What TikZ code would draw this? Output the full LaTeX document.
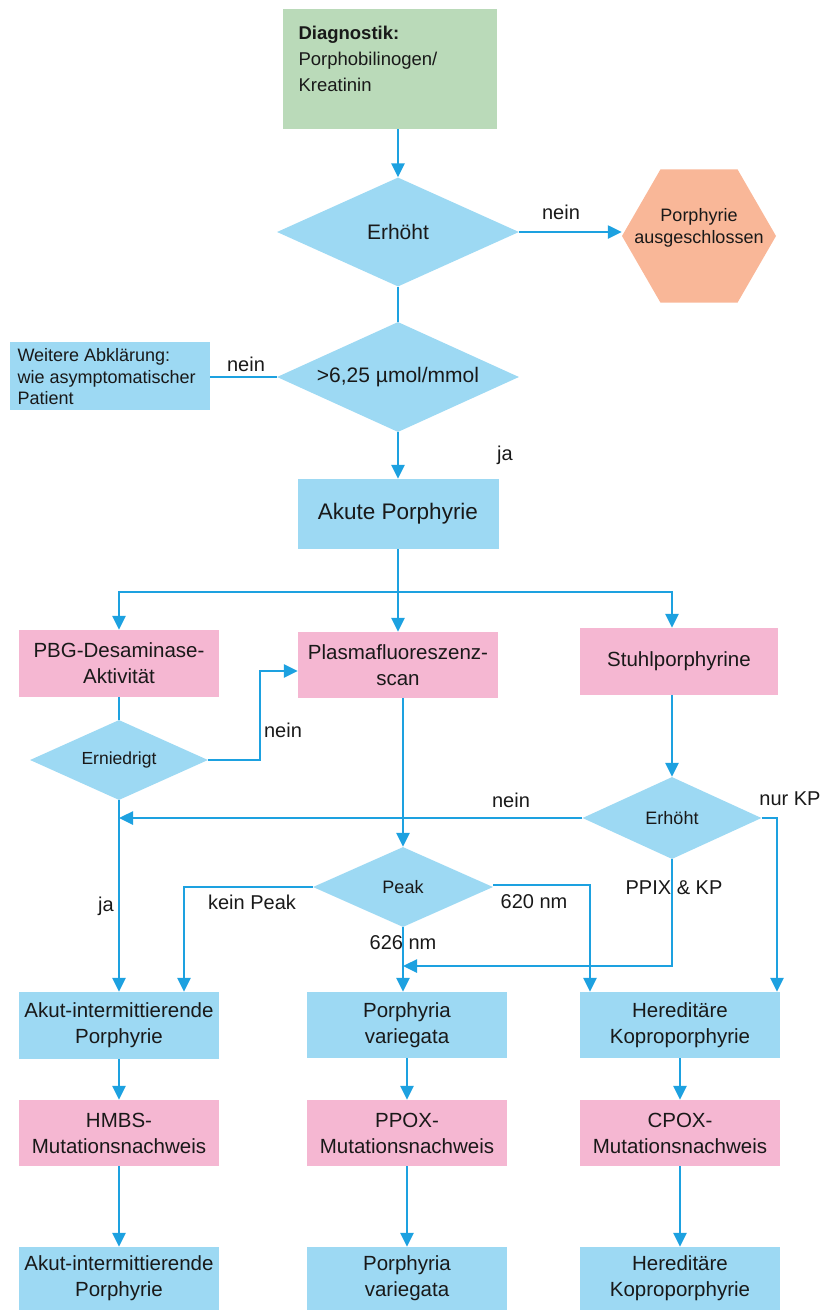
\documentclass[tikz,border=0pt]{standalone}
\usepackage{fontspec}
\setmainfont{Liberation Sans}
\usetikzlibrary{shapes.geometric,arrows.meta,calc}
\definecolor{boxblue}{RGB}{157,217,243}
\definecolor{boxpink}{RGB}{245,183,210}
\definecolor{boxgreen}{RGB}{186,218,185}
\definecolor{boxsalmon}{RGB}{249,183,152}
\definecolor{lineblue}{RGB}{29,161,224}
\definecolor{txt}{RGB}{25,25,25}
\begin{document}
\begin{tikzpicture}[x=1pt,y=-1pt,
  every node/.style={text=txt},
  basebox/.style={rectangle, minimum width=200pt, minimum height=67pt, inner sep=0pt, align=center, font=\fontsize{20.5}{26}\selectfont},
  bluebox/.style={basebox, fill=boxblue},
  pinkbox/.style={basebox, fill=boxpink},
  decision/.style={diamond, fill=boxblue, inner sep=0pt, aspect=2.2},
  conn/.style={draw=lineblue, line width=2.5pt},
  arr/.style={conn, -{Triangle[length=14pt,width=13pt]}},
  lbl/.style={font=\fontsize{20}{24}\selectfont, inner sep=1pt}
]
\useasboundingbox (0,0) rectangle (824,1310);

% top
\node (diag) [rectangle, fill=boxgreen, minimum width=214pt, minimum height=120pt, inner sep=0pt] at (390,69) {};
\node (diagt) [anchor=west, align=left, font=\fontsize{18.5}{26}\selectfont] at (295,59) {\textbf{Diagnostik:}\\Porphobilinogen/\\Kreatinin};

\node (d1) [decision, minimum width=242pt, minimum height=109pt, font=\fontsize{21}{25}\selectfont] at (398,232) {Erhöht};
\node (hex) [regular polygon, regular polygon sides=6, minimum size=154pt, inner sep=0pt, fill=boxsalmon] at (699,236) {};
\node (hext) [align=center, font=\fontsize{18}{22}\selectfont] at (699,228) {Porphyrie\\ausgeschlossen};

\node (d2) [decision, minimum width=242pt, minimum height=110pt, font=\fontsize{21}{25}\selectfont] at (398,377) {>6,25 µmol/mmol};
\node (wa) [rectangle, fill=boxblue, minimum width=200pt, minimum height=68pt, inner sep=0pt] at (110,376) {};
\node (wat) [anchor=west, align=left, font=\fontsize{18}{21.5}\selectfont] at (14,377) {Weitere Abklärung:\\wie asymptomatischer\\Patient};

\node (ak) [bluebox, minimum width=201pt, minimum height=70pt, font=\fontsize{22.5}{26}\selectfont] at (398,514) {Akute Porphyrie};

% second level
\node (pbg) [pinkbox] at (119,663.5) {PBG-Desaminase-\\Aktivität};
\node (plasma) [pinkbox, minimum height=66pt] at (398,665) {Plasmafluoreszenz-\\scan};
\node (stuhl) [pinkbox, minimum width=198pt] at (679,661.5) {Stuhlporphyrine};

\node (ern) [decision, minimum width=178pt, minimum height=80pt, font=\fontsize{17.5}{21}\selectfont] at (119,760) {Erniedrigt};
\node (e2) [decision, minimum width=179pt, minimum height=82pt, font=\fontsize{18}{21}\selectfont] at (672,818) {Erhöht};
\node (peak) [decision, minimum width=180pt, minimum height=80pt, font=\fontsize{18}{21}\selectfont] at (403,887) {Peak};

% rows
\node (aip) [bluebox] at (119,1025.5) {Akut-intermittierende\\Porphyrie};
\node (pv) [bluebox, minimum height=66pt] at (407,1025) {Porphyria\\variegata};
\node (hk) [bluebox, minimum height=66pt] at (680,1025) {Hereditäre\\Koproporphyrie};

\node (hmbs) [pinkbox, minimum height=66pt] at (119,1133) {HMBS-\\Mutationsnachweis};
\node (ppox) [pinkbox, minimum height=66pt] at (407,1133) {PPOX-\\Mutationsnachweis};
\node (cpox) [pinkbox, minimum height=66pt] at (680,1133) {CPOX-\\Mutationsnachweis};

\node (aip2) [bluebox, minimum height=63pt] at (119,1278.5) {Akut-intermittierende\\Porphyrie};
\node (pv2) [bluebox, minimum height=63pt] at (407,1278.5) {Porphyria\\variegata};
\node (hk2) [bluebox, minimum height=63pt] at (680,1278.5) {Hereditäre\\Koproporphyrie};

% coordinates
\coordinate (br) at (398,592);
\coordinate (j1) at (260,671);
\coordinate (nk) at (777,818);
\coordinate (pp) at (403,966);
\coordinate (kp) at (184,887);
\coordinate (c620) at (590,885);

% connectors
\draw[arr] (diag.south -| d1.north) -- (d1.north);
\draw[arr] (d1.east) -- (hex.west |- d1.east);
\draw[conn] (d1.south) -- (d2.north);
\draw[conn] (d2.west) -- (wa.east |- d2.west);
\draw[arr] (d2.south) -- (d2.south |- ak.north);

\draw[conn] (ak.south -| br) -- (br);
\draw[arr] (br) -- (br |- plasma.north);
\draw[arr] (br) -| (pbg.north);
\draw[arr] (br) -| (stuhl.north -| e2.north);

\draw[conn] (pbg.south -| ern.north) -- (ern.north);
\draw[arr] (ern.east) -| (j1) -- (j1 -| plasma.west);
\draw[arr] (plasma.south -| peak.north) -- (peak.north);
\draw[arr] (stuhl.south -| e2.north) -- (e2.north);

\draw[arr] (e2.west) -- (e2.west -| ern.south);
\draw[arr] (e2.east) -- (nk) -- (nk |- hk.north);
\draw[arr] (e2.south) |- (pp);
\draw[arr] (ern.south) -- (ern.south |- aip.north);
\draw[arr] (peak.west) -- (kp) -- (kp |- aip.north);
\draw[arr] (peak.east |- c620) -- (c620) -- (c620 |- hk.north);
\draw[arr] (peak.south) -- (peak.south |- pv.north);

\draw[arr] (aip.south) -- (hmbs.north);
\draw[arr] (pv.south) -- (ppox.north);
\draw[arr] (hk.south) -- (cpox.north);
\draw[arr] (hmbs.south) -- (aip2.north);
\draw[arr] (ppox.south) -- (pv2.north);
\draw[arr] (cpox.south) -- (hk2.north);

% labels
\node (l1) [lbl] at (561,212) {nein};
\node (l2) [lbl] at (246,364) {nein};
\node (l3) [lbl] at (505,455) {ja};
\node (l4) [lbl] at (283,730) {nein};
\node (l5) [lbl] at (511,800) {nein};
\node (l6) [lbl] at (790,799) {nur KP};
\node (l7) [lbl] at (674,888) {PPIX \& KP};
\node (l8) [lbl] at (252,902) {kein Peak};
\node (l9) [lbl] at (534,902) {620 nm};
\node (l10) [lbl] at (403,943) {626 nm};
\node (l11) [lbl] at (106,906) {ja};
\end{tikzpicture}
\end{document}
